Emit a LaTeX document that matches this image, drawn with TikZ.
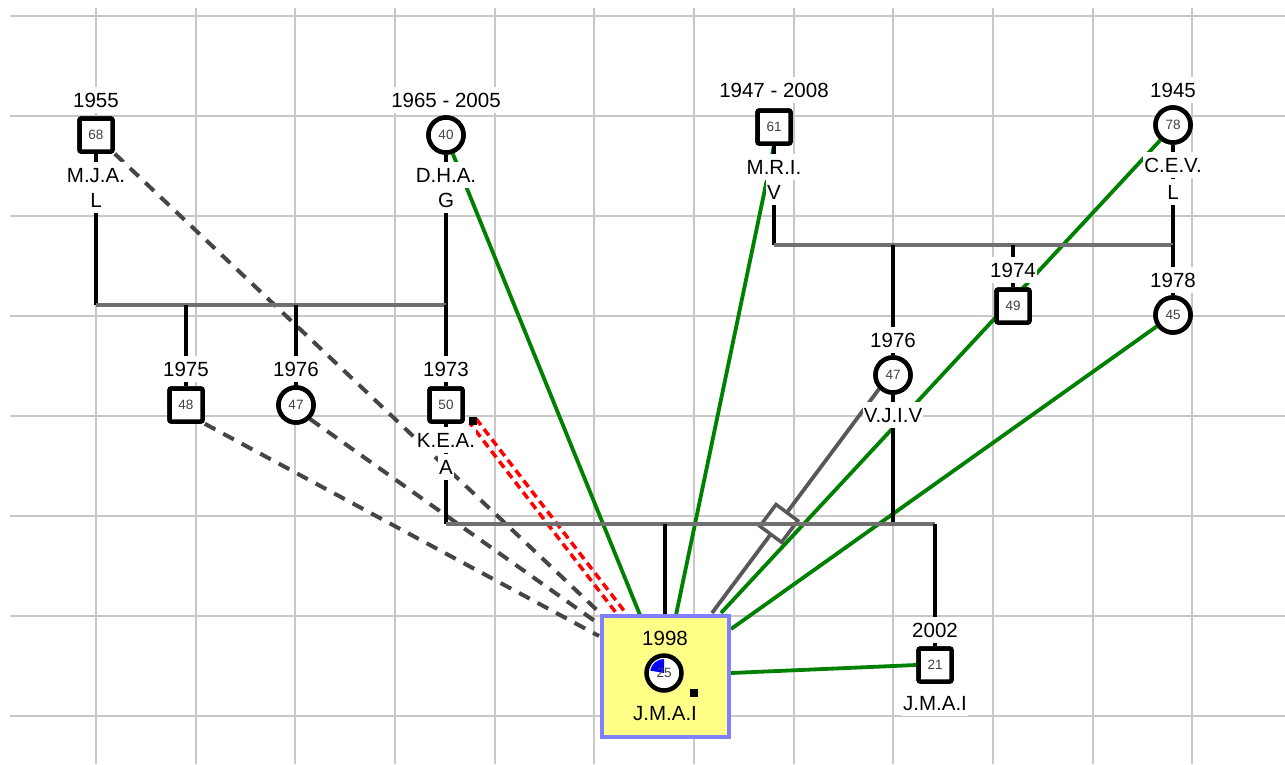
\documentclass[tikz,border=0pt]{standalone}
\usepackage{fontspec}
\setmainfont{Liberation Sans}
\usetikzlibrary{calc}
\definecolor{gridc}{HTML}{C8C8C8}
\definecolor{famgray}{HTML}{707070}
\definecolor{dgray}{HTML}{454545}
\definecolor{relgreen}{HTML}{008000}
\definecolor{boxyellow}{HTML}{FFFF88}
\definecolor{boxblue}{HTML}{7F7FFF}
\definecolor{numc}{HTML}{404040}
\begin{document}
\begin{tikzpicture}[x=1pt,y=-1pt,
  gridline/.style={draw=gridc, line width=2pt},
  lbl/.style={font=\fontsize{20.5}{24}\selectfont, fill=white, inner xsep=1pt, inner ysep=6pt, text height=14.5pt, text depth=0pt},
  lblnf/.style={font=\fontsize{20.5}{24}\selectfont, inner sep=1pt, text height=14.5pt, text depth=0pt},
  male/.style={draw=black, line width=4.5pt, fill=white, minimum size=33pt, rounded corners=2pt, inner sep=0pt, font=\fontsize{13.5}{15}\selectfont, text=numc},
  female/.style={circle, draw=black, line width=4.5pt, fill=white, minimum size=35pt, inner sep=0pt, font=\fontsize{13.5}{15}\selectfont, text=numc},
  stemline/.style={draw=black, line width=4pt},
  couple/.style={draw=famgray, line width=4.5pt},
  dashrel/.style={draw=dgray, line width=4pt, dash pattern=on 12pt off 9pt},
  redrel/.style={draw=red, line width=3.5pt, dash pattern=on 8pt off 5pt},
  greenrel/.style={draw=relgreen, line width=3.8pt},
  grayrel/.style={draw=dgray!90, line width=3.8pt},
  sepmark/.style={draw=dgray!90, line width=3.5pt, fill=white, minimum size=27pt, inner sep=0pt},
  blackmark/.style={fill=black, minimum size=8pt, inner sep=0pt}]
\useasboundingbox (0,0) rectangle (1285,764);
\fill[white] (0,0) rectangle (1285,764);
% grid
\foreach \i in {0,...,11} {\draw[gridline] ({96+99.65*\i},8) -- ({96+99.65*\i},764);}
\foreach \j in {0,...,7} {\draw[gridline] (10,{16+100*\j}) -- (1285,{16+100*\j});}

% person nodes (positions)
\path node[male] (mja) at (96,135) {68}
      node[female] (dha) at (446,135) {40}
      node[male] (mri) at (774,127) {61}
      node[female] (cev) at (1173,125) {78}
      node[male] (s1975) at (186,405) {48}
      node[female] (d1976) at (296,405) {47}
      node[male] (kea) at (446,405) {50}
      node[male] (s1974) at (1013,306) {49}
      node[female] (d1978) at (1173,315) {45}
      node[female] (vjiv) at (893,375) {47}
      node[male] (son) at (935,665) {21};
\node[blackmark] (keamark) at (473,421) {};

% coordinates
\coordinate (cL1) at (96,305);
\coordinate (cL2) at (446,305);
\coordinate (cR1) at (774,245);
\coordinate (cR2) at (1173,245);
\coordinate (cB1) at (446,524);
\coordinate (cB2) at (935,524);
\coordinate (eMJA) at (600,613);
\coordinate (e1976) at (599,624);
\coordinate (e1975) at (599,636);
\coordinate (eKEA) at (621,613);
\coordinate (eDHA) at (640,615);
\coordinate (eMRI) at (676,615);
\coordinate (eVJ) at (712,613);
\coordinate (eCEV) at (721,613);
\coordinate (e1978) at (731,629);
\coordinate (eSon) at (731,673);
\coordinate (eStem) at (665,615);

% relationship lines
\draw[dashrel] (mja.south east) -- (eMJA);
\draw[dashrel] (d1976.-45) -- (e1976);
\draw[dashrel] (s1975.south east) -- (e1975);
\draw[redrel] ($(keamark)+(3,-2.3)$) -- ($(eKEA)+(3,-2.3)$);
\draw[redrel, dash phase=4pt] ($(keamark)+(-3,2.3)$) -- ($(eKEA)+(-3,2.3)$);
\draw[greenrel] (dha.-70) -- (eDHA);
\draw[greenrel] (mri.south) -- (eMRI);
\draw[greenrel] (cev.-130) -- (eCEV);
\draw[greenrel] (d1978.-145) -- (e1978);
\draw[grayrel] (vjiv.225) -- (eVJ) node[pos=0.6, sloped, sepmark] (sep) {};

% family lines
\draw[stemline] (mja.south) -- (cL1);
\draw[stemline] (dha.south) -- (cL2);
\draw[couple] (cL1) -- (cL2);
\draw[stemline] (s1975 |- cL1) -- (s1975.north);
\draw[stemline] (d1976 |- cL1) -- (d1976.north);
\draw[stemline] (cL2) -- (kea.north);
\draw[stemline] (mri.south) -- (cR1);
\draw[stemline] (cev.south) -- (cR2);
\draw[couple] (cR1) -- (cR2);
\draw[stemline] (vjiv |- cR1) -- (vjiv.north);
\draw[stemline] (s1974 |- cR1) -- (s1974.north);
\draw[stemline] (cR2) -- (d1978.north);
\draw[stemline] (kea.south) -- (cB1);
\draw[stemline] (vjiv.south) -- (vjiv |- cB1);
\draw[couple] (cB1) -- (cB2);
\draw[stemline] (eStem |- cB1) -- (eStem);
\draw[stemline] (cB2) -- (son.north);
\draw[greenrel] (eSon) -- (son.west);

% focus box
\node[draw=boxblue, fill=boxyellow, line width=4pt, minimum width=127pt, minimum height=121pt, inner sep=0pt] (box) at (665.5,676) {};
\node[female] (me) at (664,673) {};
\fill[blue] (664,673) -- (664,659) arc[start angle=90, end angle=170, radius=14pt] -- cycle;
\node[font=\fontsize{13.5}{15}\selectfont, text=numc, inner sep=0pt] (menum) at (664,673) {25};
\node[blackmark] (memark) at (694,693) {};

% redraw nodes on top of lines
\path node[male] at (mja) {68}
      node[female] at (dha) {40}
      node[male] at (mri) {61}
      node[female] at (cev) {78}
      node[male] at (s1975) {48}
      node[female] at (d1976) {47}
      node[male] at (kea) {50}
      node[male] at (s1974) {49}
      node[female] at (d1978) {45}
      node[female] at (vjiv) {47}
      node[male] at (son) {21};
\node[blackmark] at (keamark) {};

% labels
\node[lbl] (y1) at (96,100) {1955};
\node[lbl] (y2) at (446,100) {1965 - 2005};
\node[lbl] (y3) at (774,90) {1947 - 2008};
\node[lbl] (y4) at (1173,90) {1945};
\node[lbl] (y5) at (186,369) {1975};
\node[lbl] (y6) at (296,369) {1976};
\node[lbl] (y7) at (446,369) {1973};
\node[lbl] (y8) at (1013,270) {1974};
\node[lbl] (y9) at (1173,280) {1978};
\node[lbl] (y10) at (893,340) {1976};
\node[lblnf] (y11) at (665,638) {1998};
\node[lbl] (y12) at (935,630) {2002};
\node[lbl] (n1a) at (96,175) {M.J.A.};
\node[lbl] (n1b) at (96,200) {L};
\node[lbl] (n2a) at (446,175) {D.H.A.};
\node[lbl] (n2b) at (446,200) {G};
\node[lbl] (n3a) at (774,167) {M.R.I.};
\node[lbl] (n3b) at (774,192) {V};
\node[lbl] (n4a) at (1173,165) {C.E.V.};
\node[lbl] (n4b) at (1173,192) {L};
\node[lbl] (n5a) at (446,440) {K.E.A.};
\node[lbl] (n5b) at (446,467) {A};
\node[lbl] (n6) at (893,415) {V.J.I.V};
\node[lblnf] (n7) at (665,713) {J.M.A.I};
\node[lbl] (n8) at (935,703) {J.M.A.I};
\end{tikzpicture}
\end{document}
